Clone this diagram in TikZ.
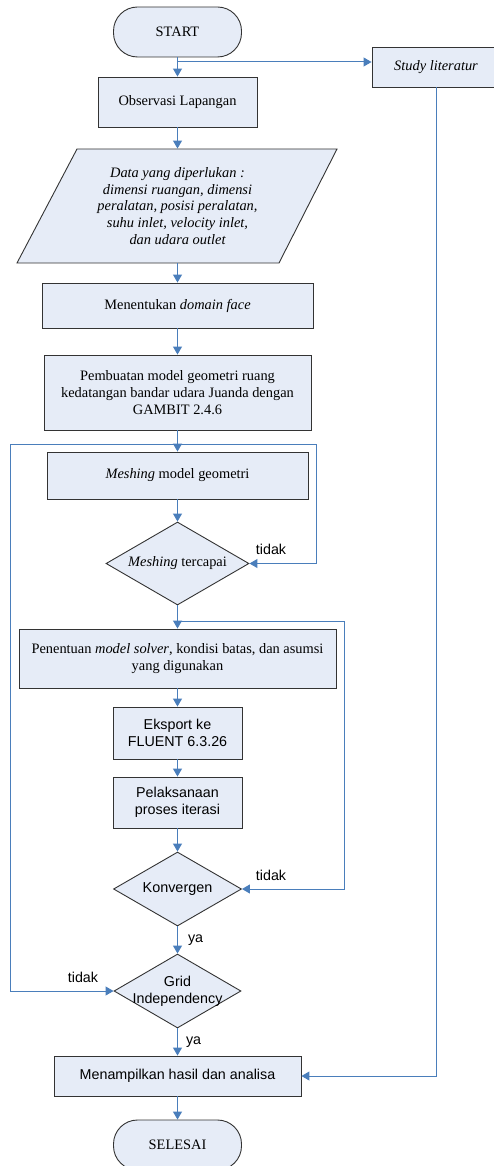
\documentclass[tikz,border=0pt]{standalone}
\usepackage{fontspec}
\setmainfont{Liberation Serif}
\setsansfont{Liberation Sans}
\usetikzlibrary{arrows.meta,shapes.geometric}
\definecolor{boxfill}{RGB}{230,236,247}
\definecolor{flowblue}{RGB}{74,126,187}
\tikzset{>={Triangle[width=9pt,length=8pt]}}
\tikzset{box/.style={draw=black!80,fill=boxfill,line width=0.9pt,inner sep=0pt,align=center,font=\fontsize{14.4}{16.7}\selectfont},
  term/.style={box,rounded corners=24pt},
  decision/.style={box,diamond,shape aspect=1.72},
  sbox/.style={box,font=\sffamily\fontsize{14.3}{17.3}\selectfont},
  flow/.style={draw=flowblue,line width=1pt,->},
  lbl/.style={font=\sffamily\fontsize{14.3}{17}\selectfont,inner sep=0pt}}

\begin{document}
\begin{tikzpicture}[x=1pt,y=-1pt]
\useasboundingbox (0,0) rectangle (494,1166);
\node[term,minimum width=128,minimum height=50] (start) at (177.5,32) {START};
\node[box,minimum width=128,minimum height=40] (study) at (436,67) {\itshape Study literatur};
\node[box,minimum width=159,minimum height=50] (obs) at (177.5,102) {Observasi Lapangan};
% data masukan
\filldraw[draw=black!80,fill=boxfill,line width=0.9pt] (17,263) -- (279,263) -- (337,149) -- (77,149) -- cycle;
\node[box,draw=none,fill=none,minimum height=114] (data) at (177.5,206)
  {\itshape Data yang diperlukan :\\ \itshape dimensi ruangan, dimensi\\ \itshape peralatan, posisi peralatan,\\ \itshape suhu inlet, velocity inlet,\\ \itshape dan udara outlet};
\node[box,minimum width=271,minimum height=45] (dom) at (177.5,305.5) {Menentukan \textit{domain face}};
\node[box,minimum width=267,minimum height=75] (geo) at (177.5,392.5)
  {Pembuatan model geometri ruang\\kedatangan bandar udara Juanda dengan\\GAMBIT 2.4.6};
\node[box,minimum width=261,minimum height=47] (mesh) at (177.5,475.5) {\textit{Meshing} model geometri};
\node[decision,minimum width=143,minimum height=83] (dmesh) at (177.5,563.5) {\textit{Meshing} tercapai};
\node[box,minimum width=317,minimum height=59] (pen) at (177.5,658.5)
  {Penentuan \textit{model solver}, kondisi batas, dan asumsi\\yang digunakan};
\node[sbox,minimum width=129,minimum height=52] (eks) at (177.5,733) {Eksport ke\\FLUENT 6.3.26};
\node[sbox,minimum width=129,minimum height=51] (pel) at (177.5,802.5) {Pelaksanaan\\proses iterasi};
\node[decision,minimum width=128,minimum height=74] (konv) at (177.5,889) {\sffamily Konvergen};
\node[decision,minimum width=127,minimum height=74,
  label={[lbl,align=center]center:Grid\\Independency}] (grid) at (177.5,991) {};
\node[sbox,minimum width=247,minimum height=40] (hasil) at (177.5,1076) {Menampilkan hasil dan analisa};
\node[term,minimum width=128,minimum height=50] (selesai) at (177.5,1145) {SELESAI};

\coordinate (br) at (177.5,62);
\coordinate (j1) at (177.5,444);
\coordinate (j2) at (177.5,621);

% alur utama
\draw[flow] (start) -- (obs);
\draw[flow] (br) -- (br -| study.west);
\draw[flow] (obs) -- (data.north);
\draw[flow] (data.south) -- (dom);
\draw[flow] (dom) -- (geo);
\draw[flow] (geo) -- (mesh);
\draw[flow] (mesh) -- (dmesh);
\draw[flow] (dmesh) -- (pen);
\draw[flow] (pen) -- (eks);
\draw[flow] (eks) -- (pel);
\draw[flow] (pel) -- (konv);
\draw[flow] (konv) -- node[lbl,right,xshift=10pt] {ya} (grid);
\draw[flow] (grid) -- node[lbl,right,xshift=8pt] {ya} (hasil);
\draw[flow] (hasil) -- (selesai);
\draw[flow] (study) |- (hasil);

% loop tidak
\draw[flow] (j1) -- (316,444) |- (dmesh.east);
\draw[flow] (j2) -- (344,621) |- (konv.east);
\draw[flow] (j1) -- (10,444) |- (grid.west);
\node[lbl] (t1) at (271,549) {tidak};
\node[lbl] (t2) at (271,875) {tidak};
\node[lbl] (t3) at (83,977) {tidak};
\end{tikzpicture}
\end{document}
